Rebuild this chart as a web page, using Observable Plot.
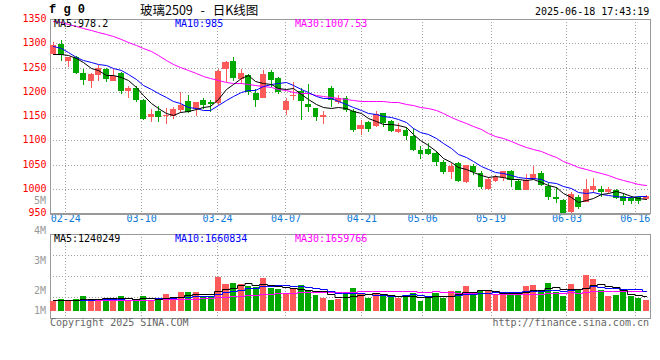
<!DOCTYPE html>
<html>
<head>
<meta charset="utf-8">
<script src="https://cdn.jsdelivr.net/npm/d3@7"></script>
<script src="https://cdn.jsdelivr.net/npm/@observablehq/plot@0.6"></script>
<style>
html,body{margin:0;padding:0;background:#fff;}
#wrap{position:relative;width:660px;height:360px;overflow:hidden;background:#fff;}
#wrap svg{position:absolute;left:0;top:0;}
.t{position:absolute;white-space:pre;font-family:"DejaVu Sans Mono",monospace;font-size:10px;line-height:10px;}
</style>
</head>
<body>
<div id="wrap"></div>
<script>
// ---------------- data ----------------
const dates = ["02-20","02-21","02-24","02-25","02-26","02-27","02-28",
"03-03","03-04","03-05","03-06","03-07","03-10","03-11","03-12","03-13","03-14",
"03-17","03-18","03-19","03-20","03-21","03-24","03-25","03-26","03-27","03-28","03-31",
"04-01","04-02","04-03","04-07","04-08","04-09","04-10","04-11","04-14","04-15","04-16","04-17","04-18",
"04-21","04-22","04-23","04-24","04-25","04-28","04-29","04-30",
"05-06","05-07","05-08","05-09","05-12","05-13","05-14","05-15","05-16","05-19","05-20","05-21","05-22","05-23",
"05-26","05-27","05-28","05-29","05-30","06-03","06-04","06-05","06-06","06-09","06-10","06-11","06-12","06-13",
"06-16","06-17","06-18"];
const open  = [1278,1298,1263,1271,1238,1223,1235,1246,1223,1238,1202,1208,1182,1147,1161,1149,1151,1162,1180,1165,
1183,1178,1176,1246,1263,1226,1235,1197,1188,1240,1228,1162,1192,1202,1175,1166,1147,1207,1178,1187,
1161,1124,1137,1130,1156,1139,1117,1121,1108,1079,1082,1073,1056,1034,1054,1013,1046,1032,1000,1017,
1023,1036,1015,998,1020,1032,1006,982,977,952,984,972,998,1000,994,998,985,981,982,978];
const high  = [1302,1307,1272,1274,1246,1239,1256,1250,1246,1240,1212,1211,1185,1165,1171,1167,1168,1200,1193,1178,
1188,1183,1246,1263,1272,1247,1237,1206,1245,1245,1231,1188,1220,1207,1216,1167,1161,1212,1193,1191,
1164,1142,1139,1161,1157,1142,1135,1127,1125,1089,1094,1077,1060,1053,1056,1049,1052,1037,1025,1029,
1037,1039,1021,1031,1046,1036,1012,1003,979,994,988,1020,1022,1006,1003,1000,991,986,986,987];
const low   = [1275,1264,1252,1236,1214,1208,1223,1221,1222,1195,1188,1178,1141,1137,1138,1133,1143,1157,1156,1151,
1164,1159,1172,1221,1223,1217,1193,1169,1187,1210,1195,1152,1184,1141,1159,1139,1134,1169,1175,1159,
1118,1111,1118,1127,1128,1116,1115,1100,1077,1062,1069,1046,1031,1021,1014,1012,1029,1000,998,1014,
1017,1003,997,997,1018,1006,976,970,950,951,958,972,991,984,991,979,967,969,969,977];
const close = [1296,1276,1271,1238,1224,1237,1250,1227,1232,1202,1208,1182,1143,1154,1148,1153,1165,1173,1158,1178,
1173,1175,1243,1261,1229,1238,1200,1182,1237,1224,1200,1181,1194,1180,1169,1148,1152,1183,1187,1163,
1121,1132,1124,1154,1135,1119,1124,1108,1080,1071,1072,1056,1034,1046,1015,1048,1034,1003,1020,1025,
1036,1018,998,1018,1031,1008,984,979,951,989,962,999,1006,993,999,981,975,975,974,986];
// volume, thousands of lots
const volumeK = [810,1031,810,1031,1224,1031,1031,1118,945,1282,945,887,1282,887,1031,1388,1031,1562,1562,1562,
1224,1224,2786,2227,2304,2227,2111,1995,2728,1918,1812,1388,1861,2140,1726,1311,1118,887,974,1388,
1947,1504,1080,1504,1224,1224,1118,1224,1504,810,1224,1504,1118,1639,1639,2053,1562,1639,1639,1388,
1388,1562,1388,2053,2140,1726,2333,1581,1224,2227,1726,2979,2641,1726,1224,1311,1783,1224,1080,887];
// moving-average values before the window can be computed from the visible closes
const ma5Head  = [1277,1277,1275,1270];
const ma10Head = [1295,1290,1281,1272,1266,1261,1258,1255,1250];
const ma30Head = [1346,1343,1339.5,1335,1331,1327,1324,1320,1315,1309,1303.5,1297,1291,1283,1275,1265.5,1258,1252,
1245,1239,1233.5,1228.5,1223.5,1221,1219,1217.5,1215.5,1213.5,1211.5];
const vma5Head  = [900,910,920,940];
const vma10Head = [880,890,900,915,930,950,970,990,1010];
const vma30Head = [880,885,890,895,900,905,910,915,920,925,930,935,945,950,960,970,980,995,1015,1035,1050,1070,
1130,1175,1225,1270,1310,1350,1405];
const priceTicks = [950,1000,1050,1100,1150,1200,1250,1300,1350];
const tickDates = ["02-24","03-10","03-24","04-07","04-21","05-06","05-19","06-03","06-16"];
const priceMaLabels = ["MA5:978.2","MA10:985","MA30:1007.53"];
const volMaLabels = ["MA5:1240249","MA10:1660834","MA30:1659766"];
const volAxisLabels = ["5M","4M","3M","2M","1M"];
const titleText = "玻璃2509 - 日K线图";
const codeText = "f g 0";
const stampText = "2025-06-18 17:43:19";

// ---------------- derived ----------------
const N = dates.length;
function movingAvg(vals, k, head) {
  return vals.map((v, i) => i < k - 1 ? head[i] : d3.mean(vals.slice(i - k + 1, i + 1)));
}
const volume = volumeK.map(v => v * 1000);
const ma5 = movingAvg(close, 5, ma5Head), ma10 = movingAvg(close, 10, ma10Head), ma30 = movingAvg(close, 30, ma30Head);
const vma5 = movingAvg(volume, 5, vma5Head.map(v=>v*1000)), vma10 = movingAvg(volume, 10, vma10Head.map(v=>v*1000)), vma30 = movingAvg(volume, 30, vma30Head.map(v=>v*1000));
const RED = "#ff5a5a", GREEN = "#00a800";
const rows = dates.map((d, i) => ({
  i, date: d, open: open[i], high: high[i], low: low[i], close: close[i], volume: volume[i],
  ma5: ma5[i], ma10: ma10[i], ma30: ma30[i], vma5: vma5[i], vma10: vma10[i], vma30: vma30[i],
  color: close[i] >= open[i] ? RED : GREEN
}));
const ticks = tickDates.map(t => ({label: t, i: dates.indexOf(t)}));

const base = {
  width: 660, height: 360, marginLeft: 50, marginRight: 10,
  style: {background: "transparent", fontFamily: "'DejaVu Sans Mono', monospace", fontSize: "10px"}
};
const dotted = {stroke: "#a0a0a0", strokeDasharray: "1,2", shapeRendering: "crispEdges"};

// grid layer (Sina grid scale: first..last date across the frame)
const priceGrid = Plot.plot({
  ...base, marginTop: 19, marginBottom: 147,
  x: {domain: [0, N - 1], axis: null},
  y: {domain: [950, 1350], axis: null, round: true},
  marks: [
    Plot.ruleY(priceTicks.slice(1, -1), dotted),
    Plot.ruleX(ticks, {x: "i", ...dotted}),
    Plot.text(priceTicks, {y: d => d, text: d => String(d), frameAnchor: "left", textAnchor: "end", dx: -4, dy: -1, fill: "#ff0000", fontSize: 10}),
    Plot.text(ticks, {x: "i", text: "label", frameAnchor: "bottom", dy: 8, fill: "#0a78d8", fontSize: 10}),
    Plot.frame({stroke: "#999", shapeRendering: "crispEdges"}),
    Plot.ruleY([950], {stroke: "#999", strokeWidth: 2, shapeRendering: "crispEdges"})
  ]
});

// candles
const priceChart = Plot.plot({
  ...base, marginTop: 19, marginBottom: 147,
  x: {domain: [0, N], axis: null, round: true},
  y: {domain: [950, 1350], axis: null, round: true},
  marks: [
    Plot.ruleX(rows, {x: d => d.i + 0.4, y1: "low", y2: "high", stroke: "color", shapeRendering: "crispEdges"}),
    Plot.rect(rows, {x1: "i", x2: d => d.i + 0.8, y1: "open", y2: "close", fill: "color", shapeRendering: "crispEdges"}),
    Plot.line(rows, {x: d => d.i + 0.4, y: "ma30", stroke: "#ff00ff", strokeWidth: 1}),
    Plot.line(rows, {x: d => d.i + 0.4, y: "ma10", stroke: "#0000ff", strokeWidth: 1}),
    Plot.line(rows, {x: d => d.i + 0.4, y: "ma5", stroke: "#000000", strokeWidth: 1})
  ]
});

const volGrid = Plot.plot({
  ...base, marginTop: 234, marginBottom: 42,
  x: {domain: [0, N - 1], axis: null},
  y: {domain: [0, 4], axis: null, round: true},
  marks: [
    Plot.ruleY([1, 2, 3], dotted),
    Plot.ruleX(ticks, {x: "i", ...dotted}),
    Plot.frame({stroke: "#999", shapeRendering: "crispEdges"})
  ]
});

const volChart = Plot.plot({
  ...base, marginTop: 234, marginBottom: 42,
  x: {domain: [0, N], axis: null, round: true},
  y: {domain: [0, 6.4e6], axis: null, insetBottom: 7, round: true},
  marks: [
    Plot.rect(rows, {x1: "i", x2: d => d.i + 0.8, y1: 0, y2: "volume", fill: "color", shapeRendering: "crispEdges"}),
    Plot.line(rows, {x: d => d.i + 0.4, y: "vma30", stroke: "#ff00ff", strokeWidth: 1, curve: "step"}),
    Plot.line(rows, {x: d => d.i + 0.4, y: "vma10", stroke: "#0000ff", strokeWidth: 1, curve: "step"}),
    Plot.line(rows, {x: d => d.i + 0.4, y: "vma5", stroke: "#000000", strokeWidth: 1, curve: "step"})
  ]
});

const wrap = document.getElementById("wrap");
[priceGrid, priceChart, volGrid, volChart].forEach(s => wrap.appendChild(s));

function label(text, css) {
  const el = document.createElement("div");
  el.className = "t";
  el.textContent = text;
  Object.assign(el.style, css);
  wrap.appendChild(el);
}
label(codeText, {left: "49px", top: "4px", fontFamily: "'Liberation Mono', monospace", fontWeight: "bold", fontSize: "12px", lineHeight: "12px", color: "#000"});
label(titleText, {left: "140px", top: "3px", fontFamily: "'Noto Sans CJK SC', sans-serif", fontSize: "12.5px", lineHeight: "13px", wordSpacing: "5px", color: "#000"});
label(stampText, {left: "535px", top: "7px", color: "#000"});
const maColors = ["#000000", "#0000ff", "#ff00ff"];
const maLefts = [54, 175, 295];
priceMaLabels.forEach((t, k) => label(t, {left: maLefts[k] + "px", top: "19px", color: maColors[k]}));
volMaLabels.forEach((t, k) => label(t, {left: maLefts[k] + "px", top: "233.5px", color: maColors[k]}));
const volLabelTops = [195.5, 226, 256, 286, 306];
volAxisLabels.forEach((t, k) => label(t, {right: "614px", top: volLabelTops[k] + "px", color: "#999", textAlign: "right"}));
label("Copyright 2025 SINA.COM", {left: "50px", top: "318px", color: "#666"});
label("http://finance.sina.com.cn", {right: "11px", top: "318px", color: "#666", textAlign: "right"});
</script>
</body>
</html>
